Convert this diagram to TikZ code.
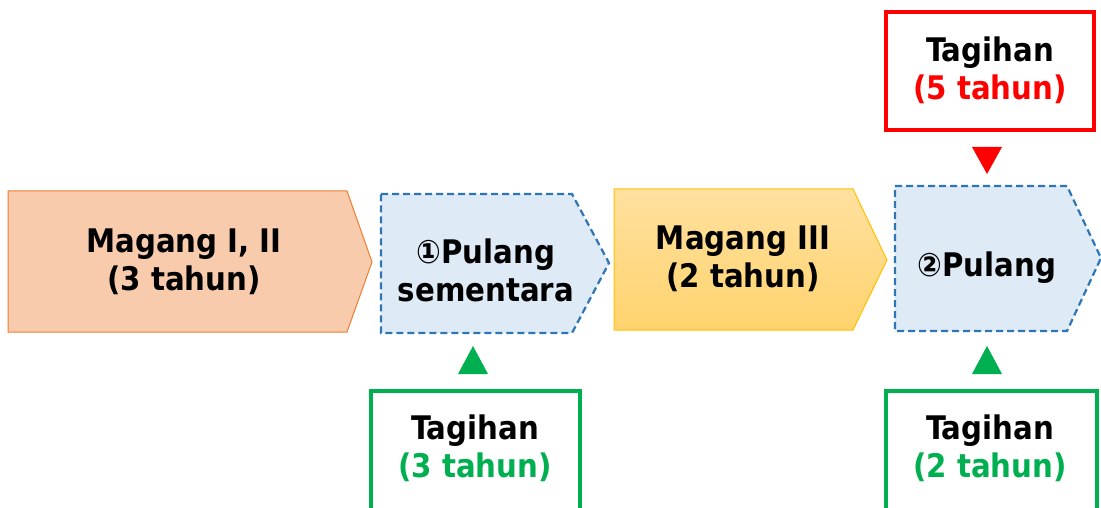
\documentclass[tikz,border=0pt]{standalone}
\usepackage{fontspec}
\setmainfont{DejaVu Sans Condensed}[BoldFont={DejaVu Sans Condensed Bold}]
\definecolor{orfill}{HTML}{F8CBAD}
\definecolor{orline}{HTML}{ED7D31}
\definecolor{blfill}{HTML}{DEEBF7}
\definecolor{blline}{HTML}{2E75B6}
\definecolor{yltop}{HTML}{FFE09E}
\definecolor{ylbot}{HTML}{FFD36E}
\definecolor{ylline}{HTML}{FFC000}
\definecolor{gr}{HTML}{00B050}
\definecolor{rd}{HTML}{FF0000}
\tikzset{
  txt/.style={font=\bfseries\fontsize{32.5}{38}\selectfont, align=center, text=black},
  dashblue/.style={draw=blline, line width=2.2pt, dash pattern=on 7pt off 4pt, fill=blfill},
  tagbox/.style={line width=3.2pt, fill=white},
}
\begin{document}
\begin{tikzpicture}[x=1pt,y=-1pt]
\useasboundingbox (0,0) rectangle (1101,508);
\clip (0,0) rectangle (1101,508);
% stage 1
\draw[draw=orline, line width=1pt, fill=orfill] (8,191) -- (347,191) -- (372,262) -- (347,332) -- (8,332) -- cycle;
\node[txt] (m1) at (184,262) {Magang I, II\\(3 tahun)};
% stage 2
\draw[dashblue] (381,194) -- (572,194) -- (609,263) -- (572,333) -- (381,333) -- cycle;
\node[txt] (p1) at (486,270) {①Pulang\\sementara};
% stage 3
\shade[top color=yltop, bottom color=ylbot] (614,189) -- (853,189) -- (887,260) -- (853,330) -- (614,330) -- cycle;
\draw[draw=ylline, line width=1pt] (614,189) -- (853,189) -- (887,260) -- (853,330) -- (614,330) -- cycle;
\node[txt] (m3) at (743,259) {Magang III\\(2 tahun)};
% stage 4
\draw[dashblue] (895,186) -- (1067,186) -- (1101,258) -- (1067,331) -- (895,331) -- cycle;
\node[txt] (p2) at (987,268) {②Pulang};
% red box
\draw[tagbox, draw=rd] (886,12) rectangle (1094,130);
\node[txt] (t5) at (990,70) {Tagihan\\\textcolor{rd}{(5 tahun)}};
\fill[rd] (972,147) -- (1002,147) -- (987,174) -- cycle;
% green boxes
\fill[gr] (458,374) -- (488,374) -- (473,346) -- cycle;
\draw[tagbox, draw=gr] (371,391) rectangle (580,520);
\node[txt] (t3) at (475,448) {Tagihan\\\textcolor{gr}{(3 tahun)}};
\fill[gr] (972,374) -- (1002,374) -- (987,346) -- cycle;
\draw[tagbox, draw=gr] (886,391) rectangle (1097,520);
\node[txt] (t2) at (990,448) {Tagihan\\\textcolor{gr}{(2 tahun)}};
\end{tikzpicture}
\end{document}
